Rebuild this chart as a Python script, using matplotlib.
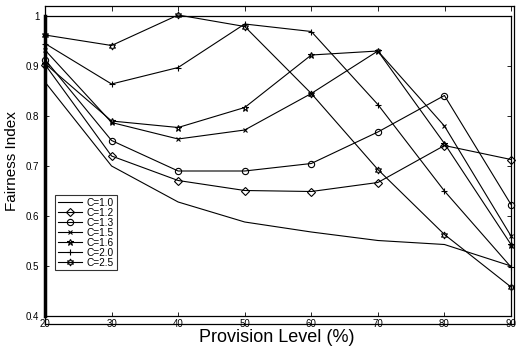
import matplotlib
matplotlib.use("Agg")
import matplotlib.pyplot as plt

plt.rcParams['font.family'] = ['Liberation Sans', 'DejaVu Sans']

provision = [20, 30, 40, 50, 60, 70, 80, 90]
c_labels = ['C=1.0', 'C=1.2', 'C=1.3', 'C=1.5', 'C=1.6', 'C=2.0', 'C=2.5']
c10 = [0.868, 0.700, 0.628, 0.588, 0.568, 0.551, 0.543, 0.500]
c12 = [0.903, 0.720, 0.671, 0.651, 0.649, 0.667, 0.741, 0.713]
c13 = [0.913, 0.751, 0.690, 0.690, 0.705, 0.768, 0.841, 0.623]
c15 = [0.932, 0.787, 0.754, 0.772, 0.845, 0.930, 0.780, 0.560]
c16 = [0.905, 0.790, 0.777, 0.817, 0.922, 0.930, 0.745, 0.543]
c20 = [0.945, 0.864, 0.897, 0.984, 0.969, 0.823, 0.650, 0.498]
c25 = [0.962, 0.941, 1.002, 0.979, 0.845, 0.693, 0.563, 0.458]
yticks = [0.4, 0.5, 0.6, 0.7, 0.8, 0.9, 1.0]
ytick_labels = ['0.4', '0.5', '0.6', '0.7', '0.8', '0.9', '1']

series = [c10, c12, c13, c15, c16, c20, c25]
markers = [None, 'D', 'o', 'x', '*', '+', (6, 1, 0)]
msizes = [0, 3.6, 4.5, 3.5, 4.5, 5, 5]

fig = plt.figure(figsize=(5.16, 3.48), dpi=100)
W, H = 516.0, 348.0

# outer frame (second, slightly offset axes)
axb = fig.add_axes([45 / W, (H - 324) / H, 469 / W, 318 / H])
axb.set_xlim(20, 90.4)
axb.set_ylim(0, 1)
axb.set_facecolor('none')
axb.set_xticks(provision)
axb.xaxis.tick_top()
axb.tick_params(axis='x', direction='in', length=3.5, width=0.6, labeltop=False)
axb.set_yticks([])
for s in axb.spines.values():
    s.set_linewidth(0.9)

ax = fig.add_axes([45 / W, (H - 316) / H, 466 / W, 300 / H])
ax.set_facecolor('none')
for vals, lab, m, ms in zip(series, c_labels, markers, msizes):
    ax.plot(provision, vals, color='black', linewidth=0.8, marker=m,
            markersize=ms, markerfacecolor='none', markeredgecolor='black',
            markeredgewidth=0.8, label=lab, clip_on=False)

ax.set_xlim(20, 90)
ax.set_ylim(0.4, 1.0)
ax.set_xticks(provision)
ax.set_yticks(yticks)
ax.set_yticklabels(ytick_labels)
ax.tick_params(axis='x', direction='in', length=3, width=0.6, labelsize=7, pad=2)
ax.tick_params(axis='y', direction='in', length=3, width=0.6, labelsize=7,
               right=True, pad=4)
for s in ax.spines.values():
    s.set_linewidth(0.9)
ax.spines['left'].set_linewidth(2.5)

fig.text(277 / W, 1 - 337 / H, 'Provision Level (%)', ha='center', va='center',
         fontsize=13)
fig.text(12 / W, 1 - 161 / H, 'Fairness Index', ha='center', va='center',
         rotation=90, fontsize=11)

leg = ax.legend(loc='upper left', bbox_to_anchor=(55 / W, 1 - 195 / H),
                bbox_transform=fig.transFigure, fontsize=7.3, frameon=True,
                fancybox=False, handlelength=2.4, handletextpad=0.5,
                labelspacing=0.0, borderpad=0.25, borderaxespad=0)
leg.get_frame().set_edgecolor('black')
leg.get_frame().set_linewidth(0.8)

fig.savefig('out.png', dpi=100)
